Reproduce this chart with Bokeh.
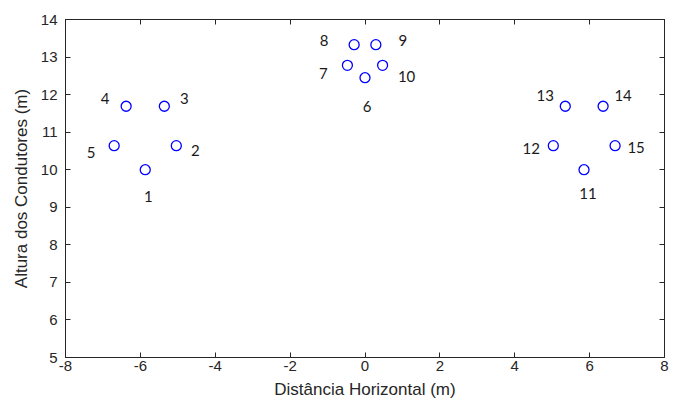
from bokeh.plotting import figure
from bokeh.models import LinearAxis, FixedTicker, Range1d, ColumnDataSource
from bokeh.embed import file_html
from bokeh.resources import INLINE
from bokeh.core.properties import value

# Conductor positions (m)
labels = ["1", "2", "3", "4", "5", "6", "7", "8", "9", "10", "11", "12", "13", "14", "15"]
x_pos = [-5.87, -5.04, -5.36, -6.38, -6.70,
         0.00, -0.47, -0.29, 0.29, 0.47,
         5.85, 5.03, 5.35, 6.36, 6.68]
y_pos = [10.00, 10.64, 11.69, 11.69, 10.64,
         12.45, 12.78, 13.33, 13.33, 12.78,
         10.00, 10.64, 11.69, 11.69, 10.64]
# label offsets from each point (screen px, +y = down)
lab_dx = [3, 19, 20, -21, -23, 2, -24, -30, 27, 24, 4, -22, -20, 20, 21]
lab_dy = [27, 5, -8, -8, 7, 29, 8, -4, -4, 11, 24, 3, -11, -11, 2]

x_ticks = [-8, -6, -4, -2, 0, 2, 4, 6, 8]
y_ticks = [5, 6, 7, 8, 9, 10, 11, 12, 13, 14]

src = ColumnDataSource(dict(x=x_pos, y=y_pos, t=labels, dx=lab_dx, dy=lab_dy))

p = figure(width=678, height=403, output_backend="svg", toolbar_location=None,
           x_range=Range1d(-8, 8), y_range=Range1d(5, 14),
           min_border_left=65, min_border_right=14, min_border_top=19, min_border_bottom=46,
           x_axis_label="Distância Horizontal (m)", y_axis_label="Altura dos Condutores (m)")
p.grid.visible = False
p.background_fill_color = "white"
p.border_fill_color = "white"
p.outline_line_color = "#262626"
p.outline_line_width = 1
p.outline_line_alpha = 1

tick_color = "#262626"
for ax, ticks in ((p.xaxis[0], x_ticks), (p.yaxis[0], y_ticks)):
    ax.ticker = FixedTicker(ticks=ticks)
    ax.major_label_overrides = {t: str(t) for t in ticks}
    ax.minor_tick_line_color = None
    ax.major_tick_in = 5
    ax.major_tick_out = 0
    ax.major_tick_line_color = tick_color
    ax.axis_line_color = tick_color
    ax.major_label_text_font = "Liberation Sans"
    ax.major_label_text_font_size = "15px"
    ax.major_label_text_color = "#262626"
    ax.axis_label_text_font = "Liberation Sans"
    ax.axis_label_text_font_size = "17px"
    ax.axis_label_text_font_style = "normal"
    ax.axis_label_text_color = "#262626"

p.xaxis[0].major_label_standoff = 3
p.xaxis[0].axis_label_standoff = 6
p.yaxis[0].major_label_standoff = 8
p.yaxis[0].axis_label_standoff = 7

# mirrored ticks on top and right
for loc, ticks in (("above", x_ticks), ("right", y_ticks)):
    ax = LinearAxis(ticker=FixedTicker(ticks=ticks))
    ax.minor_tick_line_color = None
    ax.major_tick_in = 5
    ax.major_tick_out = 0
    ax.major_tick_line_color = tick_color
    ax.axis_line_color = tick_color
    ax.major_label_text_font_size = "1px"
    ax.major_label_text_alpha = 0
    ax.major_label_standoff = 0
    p.add_layout(ax, loc)

p.scatter("x", "y", source=src, marker="circle", size=10, fill_color=None,
          line_color="#0000FF", line_width=1.3)
p.text("x", "y", text="t", source=src, x_offset="dx", y_offset="dy",
       text_font=value("Lato"), text_font_size="15px", text_color="#1a1a1a",
       text_align="center", text_baseline="middle")

open("out.html", "w").write(file_html(p, INLINE))
